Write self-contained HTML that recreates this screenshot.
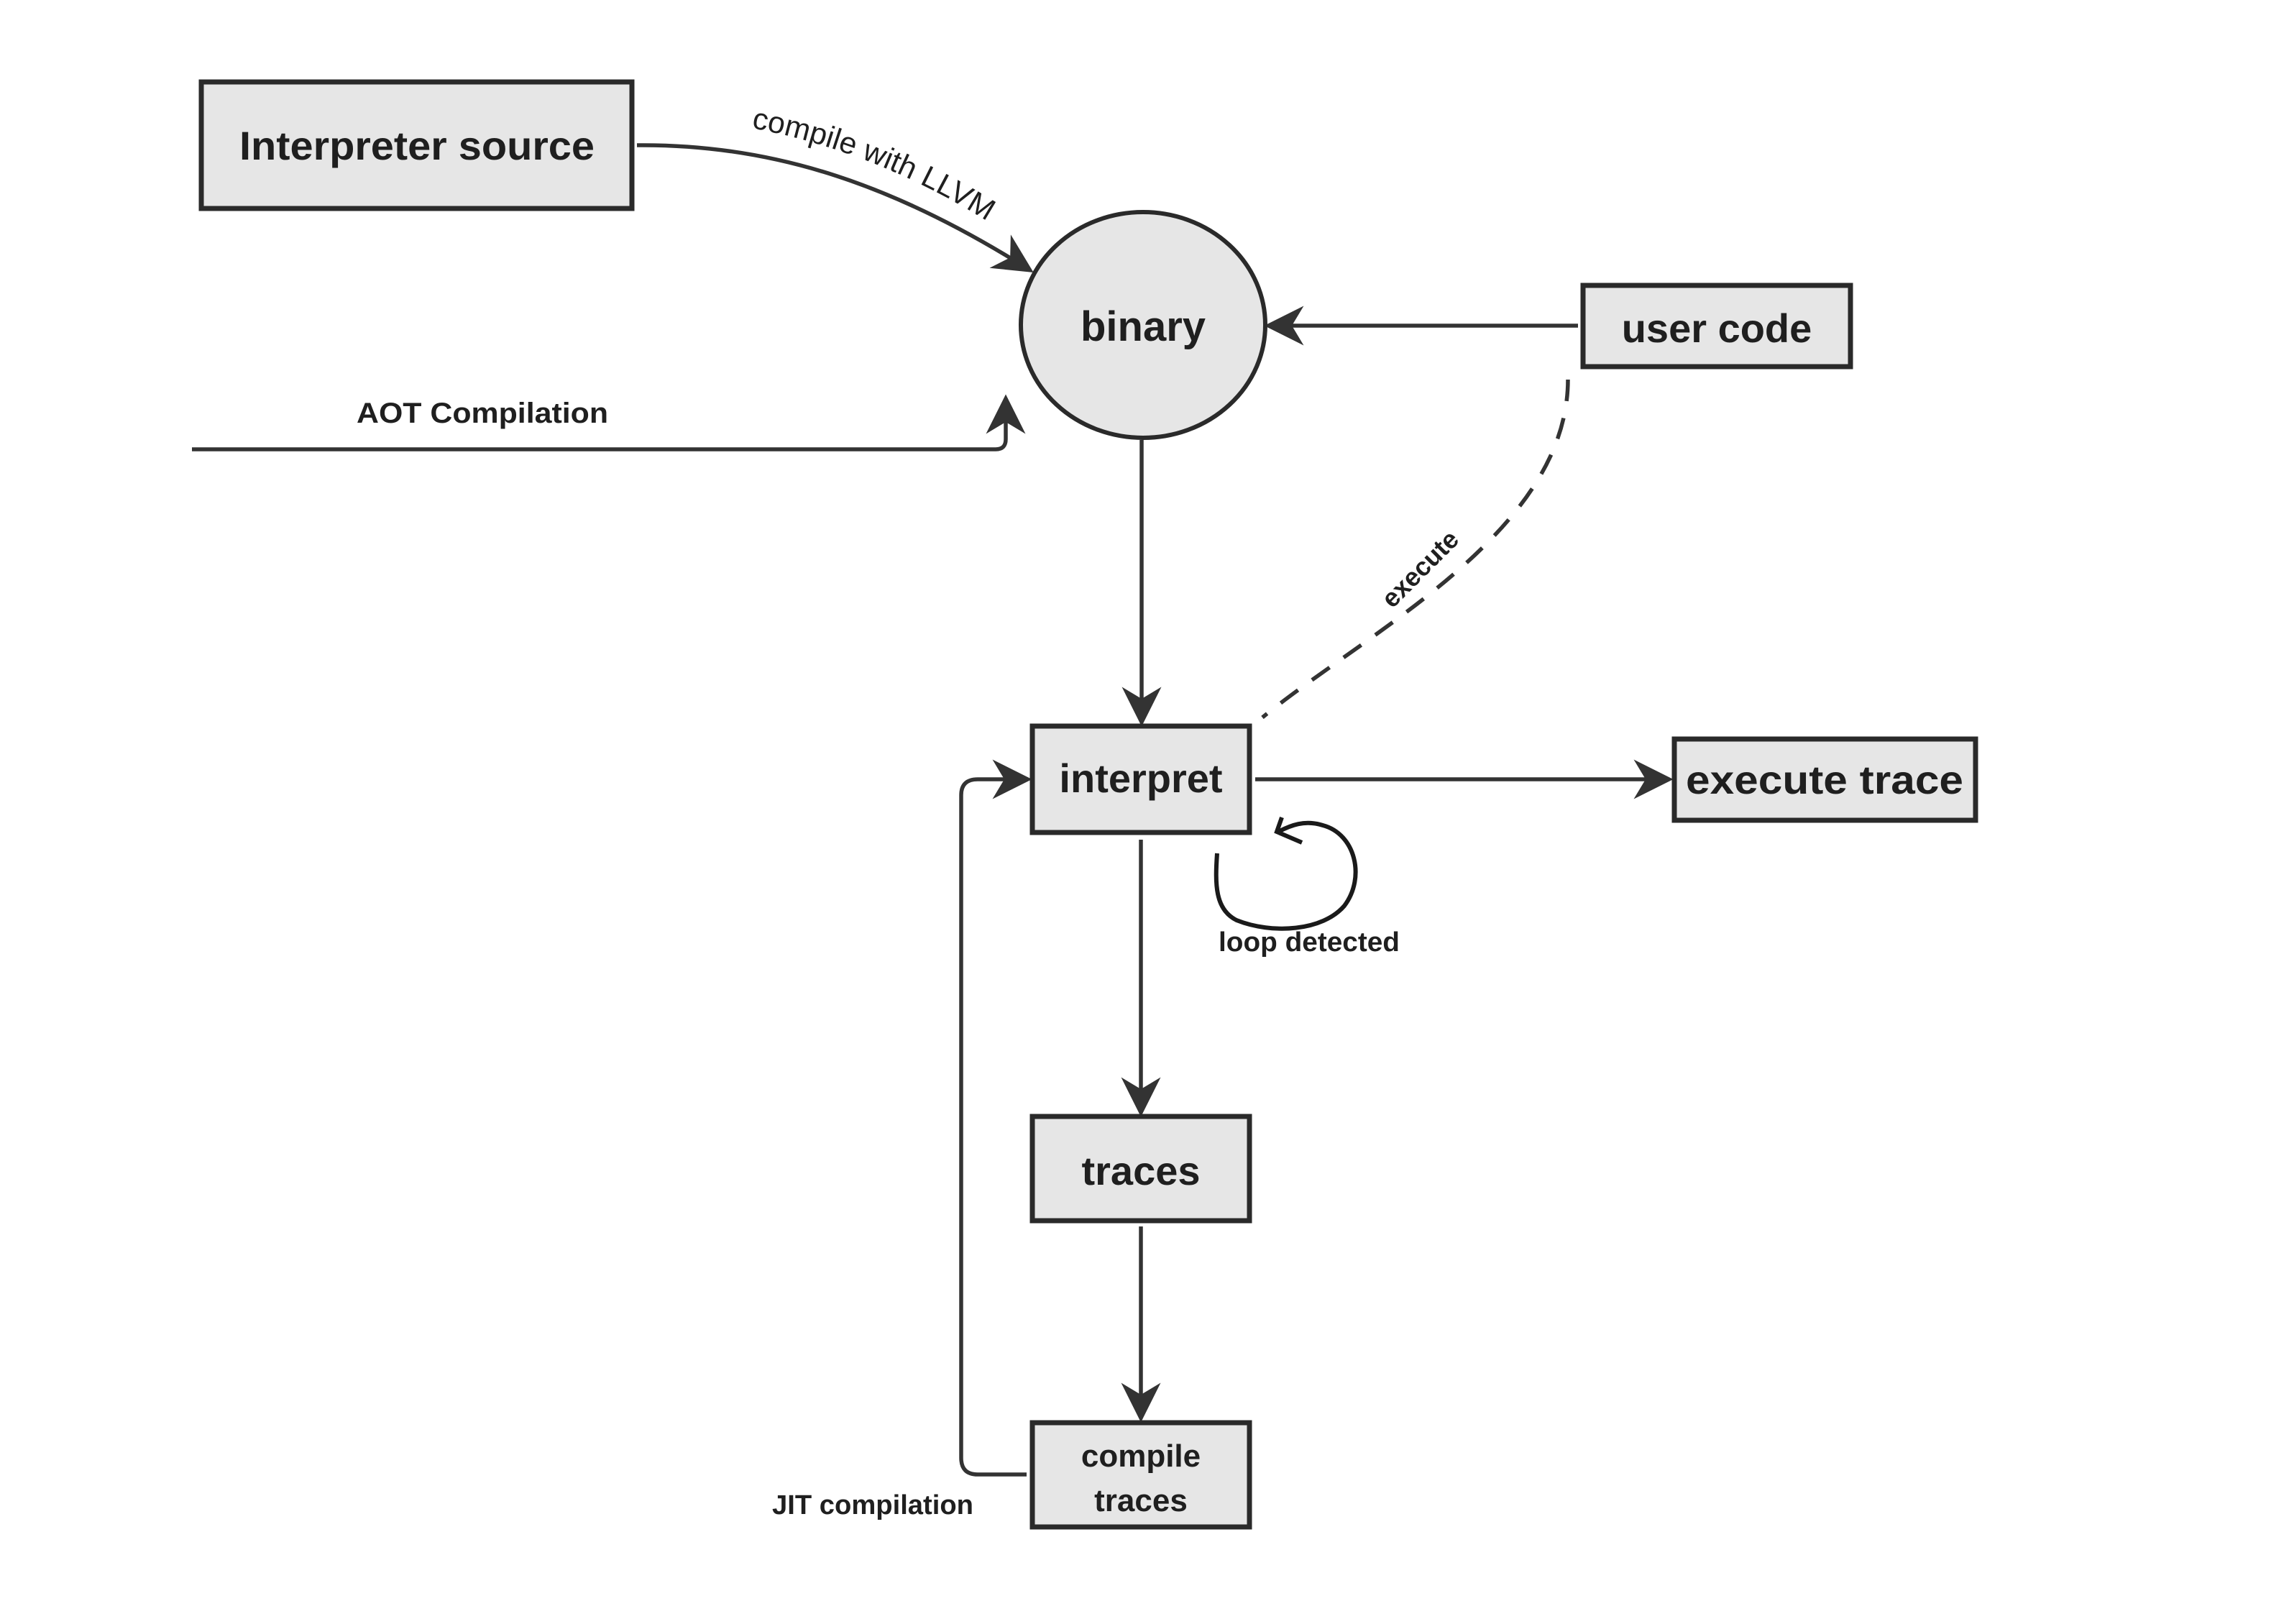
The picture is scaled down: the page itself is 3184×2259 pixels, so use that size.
<!DOCTYPE html>
<html><head><meta charset="utf-8"><style>
html,body{margin:0;padding:0;background:#fff;}
svg{display:block;}
text{font-family:"Liberation Sans",sans-serif;fill:#1f1f1f;}
</style></head><body>
<svg width="3184" height="2259" viewBox="0 0 3184 2259" xmlns="http://www.w3.org/2000/svg">
<defs>
<marker id="a" viewBox="0 0 10 10" refX="9" refY="5" markerWidth="10" markerHeight="10" orient="auto-start-reverse" markerUnits="strokeWidth">
<path d="M0,0 L10,5 L0,10 L3,5 z" fill="#333"/>
</marker>
</defs>
<g fill="none" stroke="#333" stroke-width="5.5">
<path d="M886,202 C1080,200 1250,260 1433,376" marker-end="url(#a)"/>
<path d="M267,625 L1385,625 Q1399,625 1399,611 L1399,554" marker-end="url(#a)"/>
<path d="M2195,453 L1764,453" marker-end="url(#a)"/>
<path d="M1588,612 L1588,1005" marker-end="url(#a)"/>
<path d="M1746,1084 L2322,1084" marker-end="url(#a)"/>
<path d="M1587,1168 L1587,1548" marker-end="url(#a)"/>
<path d="M1587,1706 L1587,1973" marker-end="url(#a)"/>
<path d="M1428,2051 L1360,2051 Q1337,2051 1337,2028 L1337,1106 Q1337,1084 1360,1084 L1430,1084" marker-end="url(#a)"/>
<path d="M2181,528 C2181,740 1900,880 1756,998" stroke-dasharray="30,24"/>
<path d="M1693,1187 C1690,1230 1690,1265 1720,1280 C1770,1300 1840,1295 1870,1260 C1900,1220 1885,1160 1840,1148 C1815,1140 1795,1148 1778,1157" stroke="#1a1a1a" stroke-width="6"/>
<path d="M1811,1172 L1776,1157 L1783,1137" stroke="#1a1a1a" stroke-width="6"/>
</g>
<g fill="#e6e6e6" stroke="#2a2a2a" stroke-width="7">
<rect x="280" y="114" width="599" height="176"/>
<ellipse cx="1590" cy="452" rx="170" ry="157" stroke-width="6"/>
<rect x="2202" y="397" width="372" height="113"/>
<rect x="1436" y="1010" width="302" height="148"/>
<rect x="2329" y="1028" width="419" height="113"/>
<rect x="1436" y="1553" width="302" height="145"/>
<rect x="1436" y="1979" width="302" height="145"/>
</g>
<g font-weight="bold" text-anchor="middle">
<text x="580" y="222" font-size="56" textLength="494" lengthAdjust="spacingAndGlyphs">Interpreter source</text>
<text x="1590" y="474" font-size="58">binary</text>
<text x="2388" y="476" font-size="56">user code</text>
<text x="1587" y="1102" font-size="56">interpret</text>
<text x="2538" y="1104" font-size="56" textLength="386" lengthAdjust="spacingAndGlyphs">execute trace</text>
<text x="1587" y="1648" font-size="56">traces</text>
<text x="1587" y="2040" font-size="44">compile</text>
<text x="1587" y="2102" font-size="44">traces</text>
<text x="671" y="588" font-size="40" textLength="350" lengthAdjust="spacingAndGlyphs">AOT Compilation</text>
<text x="1214" y="2106" font-size="38" textLength="280" lengthAdjust="spacingAndGlyphs">JIT compilation</text>
<text x="1821" y="1323" font-size="38" textLength="252" lengthAdjust="spacingAndGlyphs">loop detected</text>
</g>
<path id="tp" d="M1045,178 Q1230,212 1400,325" fill="none"/>
<text font-size="42" fill="#222"><textPath href="#tp" textLength="355" lengthAdjust="spacingAndGlyphs">compile with LLVM</textPath></text>
<text x="1984" y="800" font-size="36" font-weight="bold" text-anchor="middle" transform="rotate(-45 1984 800)">execute</text>
</svg>
</body></html>
